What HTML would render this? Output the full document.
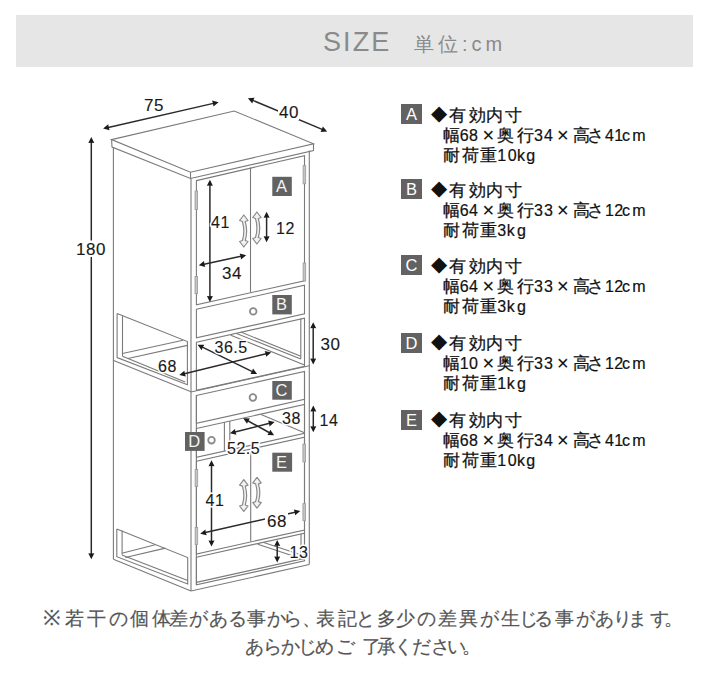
<!DOCTYPE html>
<html><head><meta charset="utf-8"><style>
html,body{margin:0;padding:0;background:#fff;}
body{width:702px;height:675px;position:relative;overflow:hidden;font-family:"Liberation Sans",sans-serif;}
.hdr{position:absolute;left:16px;top:15px;width:677px;height:52px;background:#e6e6e6;}
.size{position:absolute;left:323px;top:26.5px;font-size:27px;letter-spacing:2.1px;color:#8a8a8a;}
.unit{position:absolute;left:414px;top:31px;font-size:20px;letter-spacing:4px;color:#8a8a8a;}
.sb{position:absolute;left:401px;width:21px;height:20px;background:#626262;color:#fff;font-size:16.5px;line-height:20px;text-align:center;}
.sl{position:absolute;left:442px;font-size:17px;line-height:20px;color:#111;white-space:nowrap;letter-spacing:0.8px;-webkit-text-stroke:0.25px #111}
.l2{word-spacing:-3.5px}
.x{font-size:18.5px;line-height:10px}
.ft{position:absolute;white-space:nowrap;font-size:19px;color:#555;letter-spacing:1.2px;line-height:24px;-webkit-text-stroke:0.2px #555}
.fc{position:absolute;font-size:19px;line-height:24px;color:#555;-webkit-text-stroke:0.2px #555;white-space:nowrap}
svg{position:absolute;left:0;top:0;}
svg text{font-family:"Liberation Sans",sans-serif;}
</style></head><body>
<div class="hdr"></div>
<div class="size">SIZE</div>
<div class="unit">単位:cm</div>
<svg width="702" height="675" viewBox="0 0 702 675">
<polygon points="111.6,139.6 234.2,111 313.5,143.8 190.5,172.2" fill="none" stroke="#7a7a7a" stroke-width="1.1" stroke-linejoin="miter"/>
<polyline points="111.6,139.6 112,147 190.5,178.5 313.5,150.6 313.5,143.8" fill="none" stroke="#7a7a7a" stroke-width="1.1" stroke-linejoin="miter"/>
<line x1="190.5" y1="172.2" x2="190.5" y2="178.5" stroke="#7a7a7a" stroke-width="1.1"/>
<line x1="113.4" y1="147" x2="113.4" y2="559.3" stroke="#7a7a7a" stroke-width="1.1"/>
<line x1="191" y1="178.5" x2="191" y2="591" stroke="#7a7a7a" stroke-width="1.1"/>
<line x1="309.3" y1="150.6" x2="309.3" y2="564.5" stroke="#7a7a7a" stroke-width="1.1"/>
<line x1="113.4" y1="559.3" x2="191" y2="591" stroke="#7a7a7a" stroke-width="1.1"/>
<line x1="191" y1="591" x2="309.3" y2="564.5" stroke="#7a7a7a" stroke-width="1.1"/>
<polygon points="196.4,180.6 304.5,155.6 304.5,280.73694 196.4,304.8" fill="none" stroke="#7a7a7a" stroke-width="1.1" stroke-linejoin="miter"/>
<polygon points="196.4,309.3 304.5,285.23694 304.5,313.83693999999997 196.4,337.9" fill="none" stroke="#7a7a7a" stroke-width="1.1" stroke-linejoin="miter"/>
<polygon points="196.4,342.2 304.5,318.13694 304.5,366.33693999999997 196.4,390.4" fill="none" stroke="#7a7a7a" stroke-width="1.1" stroke-linejoin="miter"/>
<line x1="191" y1="392.00204" x2="309.3" y2="365.66846" stroke="#7a7a7a" stroke-width="1.1"/>
<polygon points="196.4,395.5 304.5,371.43694 304.5,399.33693999999997 196.4,423.4" fill="none" stroke="#7a7a7a" stroke-width="1.1" stroke-linejoin="miter"/>
<polygon points="196.4,428.5 304.5,404.43694 304.5,433.33693999999997 196.4,457.4" fill="none" stroke="#7a7a7a" stroke-width="1.1" stroke-linejoin="miter"/>
<polygon points="196.4,461.2 304.5,437.13694 304.5,529.93694 196.4,554.0" fill="none" stroke="#7a7a7a" stroke-width="1.1" stroke-linejoin="miter"/>
<polygon points="196.4,557.2 304.5,533.1369400000001 304.5,560.83694 196.4,584.9" fill="none" stroke="#7a7a7a" stroke-width="1.1" stroke-linejoin="miter"/>
<line x1="196.4" y1="395.5" x2="196.4" y2="584.9" stroke="#7a7a7a" stroke-width="1.1"/>
<line x1="304.5" y1="371.43694" x2="304.5" y2="560.83694" stroke="#7a7a7a" stroke-width="1.1"/>
<line x1="250.5" y1="167.5" x2="250.5" y2="292.2" stroke="#7a7a7a" stroke-width="1.1"/>
<line x1="250.7" y1="449" x2="250.7" y2="541.5" stroke="#7a7a7a" stroke-width="1.1"/>
<rect x="195.0" y="191" width="2.6" height="18.5" fill="#c4c4c4" stroke="#9a9a9a" stroke-width="0.8"/>
<rect x="195.0" y="276.5" width="2.6" height="17.19999999999999" fill="#c4c4c4" stroke="#9a9a9a" stroke-width="0.8"/>
<rect x="303.09999999999997" y="165.6" width="2.6" height="18.200000000000017" fill="#c4c4c4" stroke="#9a9a9a" stroke-width="0.8"/>
<rect x="303.09999999999997" y="263" width="2.6" height="18" fill="#c4c4c4" stroke="#9a9a9a" stroke-width="0.8"/>
<rect x="195.1" y="469.4" width="2.6" height="17.100000000000023" fill="#c4c4c4" stroke="#9a9a9a" stroke-width="0.8"/>
<rect x="195.1" y="527.5" width="2.6" height="17.100000000000023" fill="#c4c4c4" stroke="#9a9a9a" stroke-width="0.8"/>
<rect x="302.9" y="444" width="2.6" height="18" fill="#c4c4c4" stroke="#9a9a9a" stroke-width="0.8"/>
<rect x="302.9" y="503.6" width="2.6" height="17.100000000000023" fill="#c4c4c4" stroke="#9a9a9a" stroke-width="0.8"/>
<circle cx="253.2" cy="311.4" r="3.3" fill="#fff" stroke="#8a8a8a" stroke-width="1.8"/>
<circle cx="252.9" cy="397.5" r="3.3" fill="#fff" stroke="#8a8a8a" stroke-width="1.8"/>
<circle cx="211.5" cy="440.2" r="3.3" fill="#fff" stroke="#8a8a8a" stroke-width="1.8"/>
<line x1="224.4" y1="422.2672" x2="224.4" y2="451.1672" stroke="#7a7a7a" stroke-width="1.1"/>
<line x1="229.8" y1="421.06516" x2="229.8" y2="449.96515999999997" stroke="#7a7a7a" stroke-width="1.1"/>
<line x1="300.8" y1="318.6" x2="300.8" y2="359" stroke="#7a7a7a" stroke-width="1.1"/>
<line x1="230.8" y1="335.3" x2="304.5" y2="365" stroke="#7a7a7a" stroke-width="1.1"/>
<line x1="236.5" y1="333.5" x2="300.8" y2="359" stroke="#7a7a7a" stroke-width="1.1"/>
<line x1="240.8" y1="332.1" x2="300.8" y2="356.3" stroke="#7a7a7a" stroke-width="1.1"/>
<polyline points="117.1,313.5 187.4,341.5 187.4,384.8 117.1,357.5 117.1,313.5" fill="none" stroke="#7a7a7a" stroke-width="1.1" stroke-linejoin="miter"/>
<line x1="122.5" y1="316.1" x2="122.5" y2="356.2" stroke="#7a7a7a" stroke-width="1.1"/>
<line x1="122.5" y1="353.5" x2="183" y2="340.2" stroke="#7a7a7a" stroke-width="1.1"/>
<line x1="128" y1="358.5" x2="187.4" y2="345.4" stroke="#7a7a7a" stroke-width="1.1"/>
<line x1="122.5" y1="356.2" x2="185.2" y2="381.9" stroke="#7a7a7a" stroke-width="1.1"/>
<line x1="113" y1="360.3" x2="191" y2="391.8" stroke="#7a7a7a" stroke-width="1.1"/>
<line x1="261.0" y1="414.6" x2="304.5" y2="432.8" stroke="#7a7a7a" stroke-width="1.1"/>
<polyline points="116.8,529 187.7,557.5 187.7,584 116.8,556.7 116.8,529" fill="none" stroke="#7a7a7a" stroke-width="1.1" stroke-linejoin="miter"/>
<line x1="122.1" y1="530.5" x2="122.1" y2="554.5" stroke="#7a7a7a" stroke-width="1.1"/>
<line x1="121.9" y1="553.2" x2="155.2" y2="544.7" stroke="#7a7a7a" stroke-width="1.1"/>
<line x1="125.3" y1="557.5" x2="165.5" y2="548.1" stroke="#7a7a7a" stroke-width="1.1"/>
<line x1="121.9" y1="555" x2="187.7" y2="580.6" stroke="#7a7a7a" stroke-width="1.1"/>
<line x1="257.8" y1="544.3" x2="304.5" y2="559.7" stroke="#7a7a7a" stroke-width="1.1"/>
<line x1="263.7" y1="542.5" x2="304.5" y2="556.1" stroke="#7a7a7a" stroke-width="1.1"/>
<line x1="301" y1="533.9160400000001" x2="301" y2="559.2" stroke="#7a7a7a" stroke-width="1.1"/>
<line x1="196.4" y1="582.4" x2="304.2" y2="558.40372" stroke="#7a7a7a" stroke-width="1.1"/>
<path d="M243.8,215 L239.60000000000002,220.5 L242.4,221.5 Q245.26000000000002,231.0 242.4,240.5 L239.60000000000002,241.5 L243.8,247 L248.0,241.5 L245.20000000000002,240.5 Q248.06000000000003,231.0 245.20000000000002,221.5 L248.0,220.5 Z" fill="#f2f2f2" stroke="#8a8a8a" stroke-width="1.2" stroke-linejoin="round"/>
<path d="M256.9,212 L252.7,217.5 L255.49999999999997,218.5 Q258.35999999999996,228.0 255.49999999999997,237.5 L252.7,238.5 L256.9,244 L261.09999999999997,238.5 L258.29999999999995,237.5 Q261.15999999999997,228.0 258.29999999999995,218.5 L261.09999999999997,217.5 Z" fill="#f2f2f2" stroke="#8a8a8a" stroke-width="1.2" stroke-linejoin="round"/>
<path d="M243.8,479.6 L239.60000000000002,485.1 L242.4,486.1 Q245.26000000000002,495.55 242.4,505.0 L239.60000000000002,506.0 L243.8,511.5 L248.0,506.0 L245.20000000000002,505.0 Q248.06000000000003,495.55 245.20000000000002,486.1 L248.0,485.1 Z" fill="#f2f2f2" stroke="#8a8a8a" stroke-width="1.2" stroke-linejoin="round"/>
<path d="M257,477.4 L252.8,482.9 L255.6,483.9 Q258.46,492.75 255.6,501.6 L252.8,502.6 L257,508.1 L261.2,502.6 L258.4,501.6 Q261.26,492.75 258.4,483.9 L261.2,482.9 Z" fill="#f2f2f2" stroke="#8a8a8a" stroke-width="1.2" stroke-linejoin="round"/>
<line x1="107.19440572760183" y1="127.664135833691" x2="214.50559427239816" y2="103.13586416630899" stroke="#2a2a2a" stroke-width="1.5"/>
<polygon points="218.60,102.20 213.42,106.46 213.04,103.47 212.08,100.61" fill="#1a1a1a"/>
<polygon points="103.10,128.60 108.28,124.34 108.66,127.33 109.62,130.19" fill="#1a1a1a"/>
<line x1="251.77417120879971" y1="99.921973318186" x2="323.32582879120025" y2="129.878026681814" stroke="#2a2a2a" stroke-width="1.5"/>
<polygon points="327.20,131.50 320.51,131.95 321.94,129.30 322.82,126.42" fill="#1a1a1a"/>
<polygon points="247.90,98.30 254.59,97.85 253.16,100.50 252.28,103.38" fill="#1a1a1a"/>
<line x1="91.3" y1="141.29999999999998" x2="91.3" y2="555.0" stroke="#2a2a2a" stroke-width="1.5"/>
<polygon points="91.30,559.20 88.30,553.20 91.30,553.50 94.30,553.20" fill="#1a1a1a"/>
<polygon points="91.30,137.10 94.30,143.10 91.30,142.80 88.30,143.10" fill="#1a1a1a"/>
<line x1="209.9" y1="184.0" x2="209.9" y2="297.8" stroke="#2a2a2a" stroke-width="1.5"/>
<polygon points="209.90,302.00 206.90,296.00 209.90,296.30 212.90,296.00" fill="#1a1a1a"/>
<polygon points="209.90,179.80 212.90,185.80 209.90,185.50 206.90,185.80" fill="#1a1a1a"/>
<line x1="202.90778199009452" y1="264.4247131202541" x2="242.09221800990548" y2="256.0752868797459" stroke="#2a2a2a" stroke-width="1.5"/>
<polygon points="246.20,255.20 240.96,259.38 240.63,256.39 239.71,253.52" fill="#1a1a1a"/>
<polygon points="198.80,265.30 204.04,261.12 204.37,264.11 205.29,266.98" fill="#1a1a1a"/>
<line x1="266.6" y1="216.0" x2="266.6" y2="238.0" stroke="#2a2a2a" stroke-width="1.5"/>
<polygon points="266.60,242.20 263.60,236.20 266.60,236.50 269.60,236.20" fill="#1a1a1a"/>
<polygon points="266.60,211.80 269.60,217.80 266.60,217.50 263.60,217.80" fill="#1a1a1a"/>
<line x1="201.37293626678175" y1="346.6452511825773" x2="253.32706373321827" y2="372.0547488174227" stroke="#2a2a2a" stroke-width="1.5"/>
<polygon points="257.10,373.90 250.39,373.96 251.98,371.40 253.03,368.57" fill="#1a1a1a"/>
<polygon points="197.60,344.80 204.31,344.74 202.72,347.30 201.67,350.13" fill="#1a1a1a"/>
<line x1="183.37745321283714" y1="374.0928379985702" x2="267.12254678716283" y2="353.4071620014298" stroke="#2a2a2a" stroke-width="1.5"/>
<polygon points="271.20,352.40 266.09,356.75 265.67,353.77 264.66,350.93" fill="#1a1a1a"/>
<polygon points="179.30,375.10 184.41,370.75 184.83,373.73 185.84,376.57" fill="#1a1a1a"/>
<line x1="313.2" y1="326.4" x2="313.2" y2="360.2" stroke="#2a2a2a" stroke-width="1.5"/>
<polygon points="313.20,364.40 310.20,358.40 313.20,358.70 316.20,358.40" fill="#1a1a1a"/>
<polygon points="313.20,322.20 316.20,328.20 313.20,327.90 310.20,328.20" fill="#1a1a1a"/>
<line x1="246.8748213984599" y1="420.2336390263322" x2="270.42517860154015" y2="433.2663609736678" stroke="#2a2a2a" stroke-width="1.5"/>
<polygon points="274.10,435.30 267.40,435.02 269.11,432.54 270.30,429.77" fill="#1a1a1a"/>
<polygon points="243.20,418.20 249.90,418.48 248.19,420.96 247.00,423.73" fill="#1a1a1a"/>
<line x1="233.97190516929146" y1="432.2706369482552" x2="270.52809483070854" y2="423.02936305174484" stroke="#2a2a2a" stroke-width="1.5"/>
<polygon points="274.60,422.00 269.52,426.38 269.07,423.40 268.05,420.56" fill="#1a1a1a"/>
<polygon points="229.90,433.30 234.98,428.92 235.43,431.90 236.45,434.74" fill="#1a1a1a"/>
<line x1="313.3" y1="409.7" x2="313.3" y2="428.0" stroke="#2a2a2a" stroke-width="1.5"/>
<polygon points="313.30,432.20 310.30,426.20 313.30,426.50 316.30,426.20" fill="#1a1a1a"/>
<polygon points="313.30,405.50 316.30,411.50 313.30,411.20 310.30,411.50" fill="#1a1a1a"/>
<line x1="211.5" y1="464.5" x2="211.5" y2="542.3" stroke="#2a2a2a" stroke-width="1.5"/>
<polygon points="211.50,546.50 208.50,540.50 211.50,540.80 214.50,540.50" fill="#1a1a1a"/>
<polygon points="211.50,460.30 214.50,466.30 211.50,466.00 208.50,466.30" fill="#1a1a1a"/>
<line x1="204.29688057261436" y1="532.7750299606286" x2="296.2031194273856" y2="512.0249700393715" stroke="#2a2a2a" stroke-width="1.5"/>
<polygon points="300.30,511.10 295.11,515.35 294.74,512.36 293.79,509.50" fill="#1a1a1a"/>
<polygon points="200.20,533.70 205.39,529.45 205.76,532.44 206.71,535.30" fill="#1a1a1a"/>
<line x1="277.2" y1="544.1" x2="277.2" y2="558.1999999999999" stroke="#2a2a2a" stroke-width="1.5"/>
<polygon points="277.20,562.40 274.20,556.40 277.20,556.70 280.20,556.40" fill="#1a1a1a"/>
<polygon points="277.20,539.90 280.20,545.90 277.20,545.60 274.20,545.90" fill="#1a1a1a"/>
<rect x="76" y="240.5" width="30" height="16.5" fill="#fff"/>
<rect x="278" y="104" width="21" height="16" fill="#fff"/>
<rect x="265" y="513" width="23" height="16" fill="#fff"/>
<text x="144" y="111.4" font-size="17" fill="#fff" stroke="#fff" stroke-width="3" letter-spacing="0.5" text-anchor="start">75</text>
<text x="144" y="111.4" font-size="17" fill="#1a1a1a" stroke="#1a1a1a" stroke-width="0.12" letter-spacing="0.5" text-anchor="start">75</text>
<text x="279" y="117.9" font-size="17" fill="#fff" stroke="#fff" stroke-width="3" letter-spacing="0.5" text-anchor="start">40</text>
<text x="279" y="117.9" font-size="17" fill="#1a1a1a" stroke="#1a1a1a" stroke-width="0.12" letter-spacing="0.5" text-anchor="start">40</text>
<text x="76" y="255" font-size="17" fill="#fff" stroke="#fff" stroke-width="3" letter-spacing="0.5" text-anchor="start">180</text>
<text x="76" y="255" font-size="17" fill="#1a1a1a" stroke="#1a1a1a" stroke-width="0.12" letter-spacing="0.5" text-anchor="start">180</text>
<text x="211" y="227.6" font-size="16" fill="#fff" stroke="#fff" stroke-width="3" letter-spacing="0.5" text-anchor="start">41</text>
<text x="211" y="227.6" font-size="16" fill="#1a1a1a" stroke="#1a1a1a" stroke-width="0.12" letter-spacing="0.5" text-anchor="start">41</text>
<text x="276" y="233.9" font-size="16" fill="#fff" stroke="#fff" stroke-width="3" letter-spacing="0.5" text-anchor="start">12</text>
<text x="276" y="233.9" font-size="16" fill="#1a1a1a" stroke="#1a1a1a" stroke-width="0.12" letter-spacing="0.5" text-anchor="start">12</text>
<text x="222" y="278.7" font-size="17" fill="#fff" stroke="#fff" stroke-width="3" letter-spacing="0.5" text-anchor="start">34</text>
<text x="222" y="278.7" font-size="17" fill="#1a1a1a" stroke="#1a1a1a" stroke-width="0.12" letter-spacing="0.5" text-anchor="start">34</text>
<text x="214.5" y="353.3" font-size="16" fill="#fff" stroke="#fff" stroke-width="3" letter-spacing="0.5" text-anchor="start">36.5</text>
<text x="214.5" y="353.3" font-size="16" fill="#1a1a1a" stroke="#1a1a1a" stroke-width="0.12" letter-spacing="0.5" text-anchor="start">36.5</text>
<text x="158" y="371.5" font-size="16" fill="#fff" stroke="#fff" stroke-width="3" letter-spacing="0.5" text-anchor="start">68</text>
<text x="158" y="371.5" font-size="16" fill="#1a1a1a" stroke="#1a1a1a" stroke-width="0.12" letter-spacing="0.5" text-anchor="start">68</text>
<text x="320.5" y="350.2" font-size="17" fill="#fff" stroke="#fff" stroke-width="3" letter-spacing="0.5" text-anchor="start">30</text>
<text x="320.5" y="350.2" font-size="17" fill="#1a1a1a" stroke="#1a1a1a" stroke-width="0.12" letter-spacing="0.5" text-anchor="start">30</text>
<text x="282" y="423.6" font-size="16" fill="#fff" stroke="#fff" stroke-width="3" letter-spacing="0.5" text-anchor="start">38</text>
<text x="282" y="423.6" font-size="16" fill="#1a1a1a" stroke="#1a1a1a" stroke-width="0.12" letter-spacing="0.5" text-anchor="start">38</text>
<text x="319.5" y="425.8" font-size="16" fill="#fff" stroke="#fff" stroke-width="3" letter-spacing="0.5" text-anchor="start">14</text>
<text x="319.5" y="425.8" font-size="16" fill="#1a1a1a" stroke="#1a1a1a" stroke-width="0.12" letter-spacing="0.5" text-anchor="start">14</text>
<text x="227" y="453.9" font-size="16" fill="#fff" stroke="#fff" stroke-width="3" letter-spacing="0.5" text-anchor="start">52.5</text>
<text x="227" y="453.9" font-size="16" fill="#1a1a1a" stroke="#1a1a1a" stroke-width="0.12" letter-spacing="0.5" text-anchor="start">52.5</text>
<text x="205.5" y="505.8" font-size="16" fill="#fff" stroke="#fff" stroke-width="3" letter-spacing="0.5" text-anchor="start">41</text>
<text x="205.5" y="505.8" font-size="16" fill="#1a1a1a" stroke="#1a1a1a" stroke-width="0.12" letter-spacing="0.5" text-anchor="start">41</text>
<text x="267" y="527.1" font-size="17" fill="#fff" stroke="#fff" stroke-width="3" letter-spacing="0.5" text-anchor="start">68</text>
<text x="267" y="527.1" font-size="17" fill="#1a1a1a" stroke="#1a1a1a" stroke-width="0.12" letter-spacing="0.5" text-anchor="start">68</text>
<text x="289.5" y="558" font-size="16" fill="#fff" stroke="#fff" stroke-width="3" letter-spacing="0.5" text-anchor="start">13</text>
<text x="289.5" y="558" font-size="16" fill="#1a1a1a" stroke="#1a1a1a" stroke-width="0.12" letter-spacing="0.5" text-anchor="start">13</text>
<rect x="272.3" y="176.8" width="19.5" height="19.2" fill="#626262"/>
<text x="281.45" y="192.10000000000002" font-size="16.5" fill="#f4f4f4" text-anchor="middle">A</text>
<rect x="272.3" y="295" width="19.5" height="19.4" fill="#626262"/>
<text x="281.45" y="310.3" font-size="16.5" fill="#f4f4f4" text-anchor="middle">B</text>
<rect x="272.3" y="381" width="19.5" height="18.7" fill="#626262"/>
<text x="281.45" y="396.3" font-size="16.5" fill="#f4f4f4" text-anchor="middle">C</text>
<rect x="185" y="432" width="19.6" height="18.9" fill="#626262"/>
<text x="194.20000000000002" y="447.3" font-size="16.5" fill="#f4f4f4" text-anchor="middle">D</text>
<rect x="272.3" y="452.7" width="19.8" height="19" fill="#626262"/>
<text x="281.59999999999997" y="468.0" font-size="16.5" fill="#f4f4f4" text-anchor="middle">E</text>
</svg>
<div class="sb" style="top:104.3px">A</div>
<div class="sb" style="top:179.1px">B</div>
<div class="sb" style="top:255.3px">C</div>
<div class="sb" style="top:332.75px">D</div>
<div class="sb" style="top:409.7px">E</div>

<svg width="702" height="675" viewBox="0 0 702 675"><text x="430.6" y="120.0" font-size="21" fill="#111" stroke="#111" stroke-width="0">◆</text>
<text x="448.8" y="121.0" font-size="17" fill="#111" stroke="#111" stroke-width="0.25">有</text>
<text x="468.6" y="121.0" font-size="17" fill="#111" stroke="#111" stroke-width="0.25">効</text>
<text x="486.4" y="121.0" font-size="17" fill="#111" stroke="#111" stroke-width="0.25">内</text>
<text x="505.4" y="121.0" font-size="17" fill="#111" stroke="#111" stroke-width="0.25">寸</text>
<text x="443.0" y="141.0" font-size="17" fill="#111" stroke="#111" stroke-width="0.25">幅</text>
<text x="459.7" y="141.0" font-size="16" fill="#111" stroke="#111" stroke-width="0.2">6</text>
<text x="469.1" y="141.0" font-size="16" fill="#111" stroke="#111" stroke-width="0.2">8</text>
<text x="497.3" y="141.0" font-size="17" fill="#111" stroke="#111" stroke-width="0.25">奥</text>
<text x="516.5" y="141.0" font-size="17" fill="#111" stroke="#111" stroke-width="0.25">行</text>
<text x="533.9" y="141.0" font-size="16" fill="#111" stroke="#111" stroke-width="0.2">3</text>
<text x="543.9" y="141.0" font-size="16" fill="#111" stroke="#111" stroke-width="0.2">4</text>
<text x="572.8" y="141.0" font-size="17" fill="#111" stroke="#111" stroke-width="0.25">高</text>
<text x="587.4" y="141.0" font-size="17" fill="#111" stroke="#111" stroke-width="0.25">さ</text>
<text x="605.0" y="141.0" font-size="16" fill="#111" stroke="#111" stroke-width="0.2">4</text>
<text x="614.2" y="141.0" font-size="16" fill="#111" stroke="#111" stroke-width="0.2">1</text>
<text x="622.0" y="141.0" font-size="16" fill="#111" stroke="#111" stroke-width="0.2">c</text>
<text x="632.3" y="141.0" font-size="16" fill="#111" stroke="#111" stroke-width="0.2">m</text>
<text x="482.5" y="141.8" font-size="20" fill="#111" stroke="#111" stroke-width="0.1">×</text>
<text x="556.9" y="141.8" font-size="20" fill="#111" stroke="#111" stroke-width="0.1">×</text>
<text x="442.5" y="161.0" font-size="17" fill="#111" stroke="#111" stroke-width="0.25">耐</text>
<text x="461.5" y="161.0" font-size="17" fill="#111" stroke="#111" stroke-width="0.25">荷</text>
<text x="480.3" y="161.0" font-size="17" fill="#111" stroke="#111" stroke-width="0.25">重</text>
<text x="497.3" y="161.0" font-size="16" fill="#111" stroke="#111" stroke-width="0.2">1</text>
<text x="507.7" y="161.0" font-size="16" fill="#111" stroke="#111" stroke-width="0.2">0</text>
<text x="517.0" y="161.0" font-size="16" fill="#111" stroke="#111" stroke-width="0.2">k</text>
<text x="526.3" y="161.0" font-size="16" fill="#111" stroke="#111" stroke-width="0.2">g</text>
<text x="430.6" y="194.8" font-size="21" fill="#111" stroke="#111" stroke-width="0">◆</text>
<text x="448.8" y="195.8" font-size="17" fill="#111" stroke="#111" stroke-width="0.25">有</text>
<text x="468.6" y="195.8" font-size="17" fill="#111" stroke="#111" stroke-width="0.25">効</text>
<text x="486.4" y="195.8" font-size="17" fill="#111" stroke="#111" stroke-width="0.25">内</text>
<text x="505.4" y="195.8" font-size="17" fill="#111" stroke="#111" stroke-width="0.25">寸</text>
<text x="443.0" y="215.8" font-size="17" fill="#111" stroke="#111" stroke-width="0.25">幅</text>
<text x="459.7" y="215.8" font-size="16" fill="#111" stroke="#111" stroke-width="0.2">6</text>
<text x="469.1" y="215.8" font-size="16" fill="#111" stroke="#111" stroke-width="0.2">4</text>
<text x="497.3" y="215.8" font-size="17" fill="#111" stroke="#111" stroke-width="0.25">奥</text>
<text x="516.5" y="215.8" font-size="17" fill="#111" stroke="#111" stroke-width="0.25">行</text>
<text x="533.9" y="215.8" font-size="16" fill="#111" stroke="#111" stroke-width="0.2">3</text>
<text x="543.9" y="215.8" font-size="16" fill="#111" stroke="#111" stroke-width="0.2">3</text>
<text x="572.8" y="215.8" font-size="17" fill="#111" stroke="#111" stroke-width="0.25">高</text>
<text x="587.4" y="215.8" font-size="17" fill="#111" stroke="#111" stroke-width="0.25">さ</text>
<text x="605.0" y="215.8" font-size="16" fill="#111" stroke="#111" stroke-width="0.2">1</text>
<text x="614.2" y="215.8" font-size="16" fill="#111" stroke="#111" stroke-width="0.2">2</text>
<text x="622.0" y="215.8" font-size="16" fill="#111" stroke="#111" stroke-width="0.2">c</text>
<text x="632.3" y="215.8" font-size="16" fill="#111" stroke="#111" stroke-width="0.2">m</text>
<text x="482.5" y="216.6" font-size="20" fill="#111" stroke="#111" stroke-width="0.1">×</text>
<text x="556.9" y="216.6" font-size="20" fill="#111" stroke="#111" stroke-width="0.1">×</text>
<text x="442.5" y="235.8" font-size="17" fill="#111" stroke="#111" stroke-width="0.25">耐</text>
<text x="461.5" y="235.8" font-size="17" fill="#111" stroke="#111" stroke-width="0.25">荷</text>
<text x="480.3" y="235.8" font-size="17" fill="#111" stroke="#111" stroke-width="0.25">重</text>
<text x="497.3" y="235.8" font-size="16" fill="#111" stroke="#111" stroke-width="0.2">3</text>
<text x="506.7" y="235.8" font-size="16" fill="#111" stroke="#111" stroke-width="0.2">k</text>
<text x="517.0" y="235.8" font-size="16" fill="#111" stroke="#111" stroke-width="0.2">g</text>
<text x="430.6" y="271.0" font-size="21" fill="#111" stroke="#111" stroke-width="0">◆</text>
<text x="448.8" y="272.0" font-size="17" fill="#111" stroke="#111" stroke-width="0.25">有</text>
<text x="468.6" y="272.0" font-size="17" fill="#111" stroke="#111" stroke-width="0.25">効</text>
<text x="486.4" y="272.0" font-size="17" fill="#111" stroke="#111" stroke-width="0.25">内</text>
<text x="505.4" y="272.0" font-size="17" fill="#111" stroke="#111" stroke-width="0.25">寸</text>
<text x="443.0" y="292.0" font-size="17" fill="#111" stroke="#111" stroke-width="0.25">幅</text>
<text x="459.7" y="292.0" font-size="16" fill="#111" stroke="#111" stroke-width="0.2">6</text>
<text x="469.1" y="292.0" font-size="16" fill="#111" stroke="#111" stroke-width="0.2">4</text>
<text x="497.3" y="292.0" font-size="17" fill="#111" stroke="#111" stroke-width="0.25">奥</text>
<text x="516.5" y="292.0" font-size="17" fill="#111" stroke="#111" stroke-width="0.25">行</text>
<text x="533.9" y="292.0" font-size="16" fill="#111" stroke="#111" stroke-width="0.2">3</text>
<text x="543.9" y="292.0" font-size="16" fill="#111" stroke="#111" stroke-width="0.2">3</text>
<text x="572.8" y="292.0" font-size="17" fill="#111" stroke="#111" stroke-width="0.25">高</text>
<text x="587.4" y="292.0" font-size="17" fill="#111" stroke="#111" stroke-width="0.25">さ</text>
<text x="605.0" y="292.0" font-size="16" fill="#111" stroke="#111" stroke-width="0.2">1</text>
<text x="614.2" y="292.0" font-size="16" fill="#111" stroke="#111" stroke-width="0.2">2</text>
<text x="622.0" y="292.0" font-size="16" fill="#111" stroke="#111" stroke-width="0.2">c</text>
<text x="632.3" y="292.0" font-size="16" fill="#111" stroke="#111" stroke-width="0.2">m</text>
<text x="482.5" y="292.8" font-size="20" fill="#111" stroke="#111" stroke-width="0.1">×</text>
<text x="556.9" y="292.8" font-size="20" fill="#111" stroke="#111" stroke-width="0.1">×</text>
<text x="442.5" y="312.0" font-size="17" fill="#111" stroke="#111" stroke-width="0.25">耐</text>
<text x="461.5" y="312.0" font-size="17" fill="#111" stroke="#111" stroke-width="0.25">荷</text>
<text x="480.3" y="312.0" font-size="17" fill="#111" stroke="#111" stroke-width="0.25">重</text>
<text x="497.3" y="312.0" font-size="16" fill="#111" stroke="#111" stroke-width="0.2">3</text>
<text x="506.7" y="312.0" font-size="16" fill="#111" stroke="#111" stroke-width="0.2">k</text>
<text x="517.0" y="312.0" font-size="16" fill="#111" stroke="#111" stroke-width="0.2">g</text>
<text x="430.6" y="348.4" font-size="21" fill="#111" stroke="#111" stroke-width="0">◆</text>
<text x="448.8" y="349.4" font-size="17" fill="#111" stroke="#111" stroke-width="0.25">有</text>
<text x="468.6" y="349.4" font-size="17" fill="#111" stroke="#111" stroke-width="0.25">効</text>
<text x="486.4" y="349.4" font-size="17" fill="#111" stroke="#111" stroke-width="0.25">内</text>
<text x="505.4" y="349.4" font-size="17" fill="#111" stroke="#111" stroke-width="0.25">寸</text>
<text x="443.0" y="369.4" font-size="17" fill="#111" stroke="#111" stroke-width="0.25">幅</text>
<text x="459.7" y="369.4" font-size="16" fill="#111" stroke="#111" stroke-width="0.2">1</text>
<text x="469.1" y="369.4" font-size="16" fill="#111" stroke="#111" stroke-width="0.2">0</text>
<text x="497.3" y="369.4" font-size="17" fill="#111" stroke="#111" stroke-width="0.25">奥</text>
<text x="516.5" y="369.4" font-size="17" fill="#111" stroke="#111" stroke-width="0.25">行</text>
<text x="533.9" y="369.4" font-size="16" fill="#111" stroke="#111" stroke-width="0.2">3</text>
<text x="543.9" y="369.4" font-size="16" fill="#111" stroke="#111" stroke-width="0.2">3</text>
<text x="572.8" y="369.4" font-size="17" fill="#111" stroke="#111" stroke-width="0.25">高</text>
<text x="587.4" y="369.4" font-size="17" fill="#111" stroke="#111" stroke-width="0.25">さ</text>
<text x="605.0" y="369.4" font-size="16" fill="#111" stroke="#111" stroke-width="0.2">1</text>
<text x="614.2" y="369.4" font-size="16" fill="#111" stroke="#111" stroke-width="0.2">2</text>
<text x="622.0" y="369.4" font-size="16" fill="#111" stroke="#111" stroke-width="0.2">c</text>
<text x="632.3" y="369.4" font-size="16" fill="#111" stroke="#111" stroke-width="0.2">m</text>
<text x="482.5" y="370.2" font-size="20" fill="#111" stroke="#111" stroke-width="0.1">×</text>
<text x="556.9" y="370.2" font-size="20" fill="#111" stroke="#111" stroke-width="0.1">×</text>
<text x="442.5" y="389.4" font-size="17" fill="#111" stroke="#111" stroke-width="0.25">耐</text>
<text x="461.5" y="389.4" font-size="17" fill="#111" stroke="#111" stroke-width="0.25">荷</text>
<text x="480.3" y="389.4" font-size="17" fill="#111" stroke="#111" stroke-width="0.25">重</text>
<text x="497.3" y="389.4" font-size="16" fill="#111" stroke="#111" stroke-width="0.2">1</text>
<text x="506.7" y="389.4" font-size="16" fill="#111" stroke="#111" stroke-width="0.2">k</text>
<text x="517.0" y="389.4" font-size="16" fill="#111" stroke="#111" stroke-width="0.2">g</text>
<text x="430.6" y="425.4" font-size="21" fill="#111" stroke="#111" stroke-width="0">◆</text>
<text x="448.8" y="426.4" font-size="17" fill="#111" stroke="#111" stroke-width="0.25">有</text>
<text x="468.6" y="426.4" font-size="17" fill="#111" stroke="#111" stroke-width="0.25">効</text>
<text x="486.4" y="426.4" font-size="17" fill="#111" stroke="#111" stroke-width="0.25">内</text>
<text x="505.4" y="426.4" font-size="17" fill="#111" stroke="#111" stroke-width="0.25">寸</text>
<text x="443.0" y="446.4" font-size="17" fill="#111" stroke="#111" stroke-width="0.25">幅</text>
<text x="459.7" y="446.4" font-size="16" fill="#111" stroke="#111" stroke-width="0.2">6</text>
<text x="469.1" y="446.4" font-size="16" fill="#111" stroke="#111" stroke-width="0.2">8</text>
<text x="497.3" y="446.4" font-size="17" fill="#111" stroke="#111" stroke-width="0.25">奥</text>
<text x="516.5" y="446.4" font-size="17" fill="#111" stroke="#111" stroke-width="0.25">行</text>
<text x="533.9" y="446.4" font-size="16" fill="#111" stroke="#111" stroke-width="0.2">3</text>
<text x="543.9" y="446.4" font-size="16" fill="#111" stroke="#111" stroke-width="0.2">4</text>
<text x="572.8" y="446.4" font-size="17" fill="#111" stroke="#111" stroke-width="0.25">高</text>
<text x="587.4" y="446.4" font-size="17" fill="#111" stroke="#111" stroke-width="0.25">さ</text>
<text x="605.0" y="446.4" font-size="16" fill="#111" stroke="#111" stroke-width="0.2">4</text>
<text x="614.2" y="446.4" font-size="16" fill="#111" stroke="#111" stroke-width="0.2">1</text>
<text x="622.0" y="446.4" font-size="16" fill="#111" stroke="#111" stroke-width="0.2">c</text>
<text x="632.3" y="446.4" font-size="16" fill="#111" stroke="#111" stroke-width="0.2">m</text>
<text x="482.5" y="447.2" font-size="20" fill="#111" stroke="#111" stroke-width="0.1">×</text>
<text x="556.9" y="447.2" font-size="20" fill="#111" stroke="#111" stroke-width="0.1">×</text>
<text x="442.5" y="466.4" font-size="17" fill="#111" stroke="#111" stroke-width="0.25">耐</text>
<text x="461.5" y="466.4" font-size="17" fill="#111" stroke="#111" stroke-width="0.25">荷</text>
<text x="480.3" y="466.4" font-size="17" fill="#111" stroke="#111" stroke-width="0.25">重</text>
<text x="497.3" y="466.4" font-size="16" fill="#111" stroke="#111" stroke-width="0.2">1</text>
<text x="507.7" y="466.4" font-size="16" fill="#111" stroke="#111" stroke-width="0.2">0</text>
<text x="517.0" y="466.4" font-size="16" fill="#111" stroke="#111" stroke-width="0.2">k</text>
<text x="526.3" y="466.4" font-size="16" fill="#111" stroke="#111" stroke-width="0.2">g</text></svg>
<span class="fc" style="left:42.8px;top:606px;font-size:21px">※</span><span class="fc" style="left:64.8px;top:607px">若</span><span class="fc" style="left:87.0px;top:607px">干</span><span class="fc" style="left:109.2px;top:607px">の</span><span class="fc" style="left:129.7px;top:607px">個</span><span class="fc" style="left:152.0px;top:607px">体</span><span class="fc" style="left:168.8px;top:607px">差</span><span class="fc" style="left:189.2px;top:607px">が</span><span class="fc" style="left:208.8px;top:607px">あ</span><span class="fc" style="left:228.3px;top:607px">る</span><span class="fc" style="left:247.4px;top:607px">事</span><span class="fc" style="left:266.8px;top:607px">か</span><span class="fc" style="left:282.6px;top:607px">ら</span><span class="fc" style="left:301.6px;top:607px">、</span><span class="fc" style="left:316.3px;top:607px">表</span><span class="fc" style="left:337.8px;top:607px">記</span><span class="fc" style="left:356.1px;top:607px">と</span><span class="fc" style="left:376.7px;top:607px">多</span><span class="fc" style="left:396.4px;top:607px">少</span><span class="fc" style="left:417.0px;top:607px">の</span><span class="fc" style="left:437.5px;top:607px">差</span><span class="fc" style="left:458.9px;top:607px">異</span><span class="fc" style="left:480.1px;top:607px">が</span><span class="fc" style="left:500.5px;top:607px">生</span><span class="fc" style="left:518.7px;top:607px">じ</span><span class="fc" style="left:534.4px;top:607px">る</span><span class="fc" style="left:555.2px;top:607px">事</span><span class="fc" style="left:575.6px;top:607px">が</span><span class="fc" style="left:595.2px;top:607px">あ</span><span class="fc" style="left:612.8px;top:607px">り</span><span class="fc" style="left:628.3px;top:607px">ま</span><span class="fc" style="left:650.1px;top:607px">す</span><span class="fc" style="left:664.3px;top:607px">。</span><span class="fc" style="left:245.0px;top:634.5px">あ</span><span class="fc" style="left:262.6px;top:634.5px">ら</span><span class="fc" style="left:281.0px;top:634.5px">か</span><span class="fc" style="left:298.4px;top:634.5px">じ</span><span class="fc" style="left:315.1px;top:634.5px">め</span><span class="fc" style="left:336.3px;top:634.5px">ご</span><span class="fc" style="left:361.7px;top:634.5px">了</span><span class="fc" style="left:377.2px;top:634.5px">承</span><span class="fc" style="left:394.4px;top:634.5px">く</span><span class="fc" style="left:412.1px;top:634.5px">だ</span><span class="fc" style="left:430.8px;top:634.5px">さ</span><span class="fc" style="left:447.2px;top:634.5px">い</span><span class="fc" style="left:462.4px;top:634.5px">。</span>
</body></html>
